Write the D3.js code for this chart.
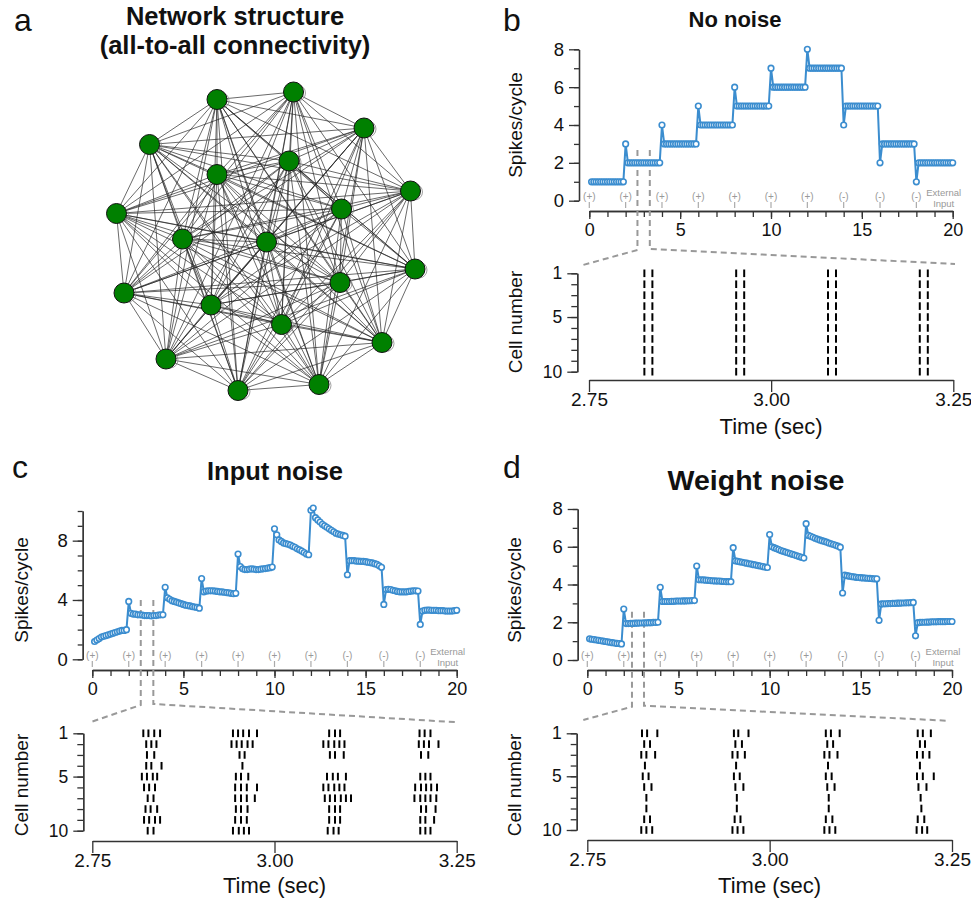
<!DOCTYPE html>
<html>
<head>
<meta charset="utf-8">
<script src="https://cdn.jsdelivr.net/npm/d3@7"></script>
<style>
  body { margin: 0; background: #fff; }
  text { font-family: "Liberation Sans", Arial, Helvetica, sans-serif; }
</style>
</head>
<body>
<div id="fig"></div>
<script>
// ---------- data ----------

// one spikes/cycle value per theta cycle (0.125 s)
var cycleLen = 0.125;

var inputTimes = [0, 2, 4, 6, 8, 10, 12, 14, 16, 18];
var inputSigns = ["(+)", "(+)", "(+)", "(+)", "(+)", "(+)", "(+)", "(-)", "(-)", "(-)"];

var timeTicks = [0, 5, 10, 15, 20];
var zoomTicks = [2.75, 3.00, 3.25];
var cellTicks = [1, 5, 10];

// b: no noise, one row per 2 s input step
var noNoise = [
  [1,1,1,1,1,1,1,1,1,1,1,1,1,1,1],
  [3,2,2,2,2,2,2,2,2,2,2,2,2,2,2,2],
  [4,3,3,3,3,3,3,3,3,3,3,3,3,3,3,3],
  [5,4,4,4,4,4,4,4,4,4,4,4,4,4,4,4],
  [6,5,5,5,5,5,5,5,5,5,5,5,5,5,5,5],
  [7,6,6,6,6,6,6,6,6,6,6,6,6,6,6,6],
  [8,7,7,7,7,7,7,7,7,7,7,7,7,7,7,7],
  [4,5,5,5,5,5,5,5,5,5,5,5,5,5,5,5],
  [2,3,3,3,3,3,3,3,3,3,3,3,3,3,3,3],
  [1,2,2,2,2,2,2,2,2,2,2,2,2,2,2,2,2]
];

// c: input noise
var inputNoise = [
  [1.2,1.3,1.4,1.5,1.55,1.6,1.65,1.7,1.75,1.8,1.85,1.9,1.95,1.95,2.0],
  [3.9,3.1,3.05,3.05,3.0,3.0,2.98,2.95,2.95,2.95,2.92,2.95,2.95,2.98,3.0,3.0],
  [4.85,4.15,4.05,3.95,3.9,3.85,3.8,3.75,3.7,3.65,3.62,3.6,3.55,3.52,3.5,3.45],
  [5.45,4.55,4.6,4.62,4.62,4.62,4.6,4.58,4.55,4.55,4.52,4.5,4.48,4.45,4.42,4.45],
  [7.1,6.25,6.1,6.05,6.05,6.08,6.1,6.08,6.05,6.05,6.08,6.1,6.12,6.15,6.18,6.22],
  [8.8,8.4,8.05,7.95,7.85,7.8,7.75,7.7,7.62,7.55,7.45,7.38,7.3,7.2,7.1,7.05],
  [10.05,10.2,9.55,9.4,9.25,9.1,9.0,8.9,8.8,8.7,8.6,8.5,8.45,8.4,8.35,8.3],
  [5.7,6.65,6.65,6.65,6.62,6.62,6.6,6.6,6.58,6.55,6.52,6.5,6.45,6.4,6.3,6.2],
  [3.7,4.7,4.72,4.7,4.65,4.62,4.58,4.55,4.55,4.55,4.55,4.58,4.6,4.62,4.62,4.6],
  [2.35,3.25,3.3,3.32,3.32,3.3,3.3,3.3,3.28,3.28,3.28,3.25,3.25,3.25,3.25,3.28,3.3]
];

// d: weight noise
var weightNoise = [
  [1.12,1.1,1.08,1.06,1.04,1.02,1.0,0.98,0.96,0.94,0.92,0.9,0.88,0.87,0.85],
  [2.7,1.93,1.93,1.94,1.94,1.95,1.95,1.96,1.96,1.97,1.97,1.98,1.98,1.99,1.99,2.0],
  [3.85,3.1,3.1,3.1,3.1,3.11,3.11,3.12,3.12,3.12,3.13,3.13,3.14,3.14,3.15,3.15],
  [4.98,4.25,4.25,4.24,4.23,4.22,4.21,4.2,4.19,4.18,4.18,4.17,4.16,4.15,4.15,4.15],
  [5.95,5.25,5.23,5.2,5.18,5.15,5.13,5.1,5.08,5.05,5.03,5.0,4.98,4.95,4.92,4.9],
  [6.65,6.0,5.95,5.9,5.85,5.8,5.76,5.72,5.68,5.64,5.6,5.56,5.52,5.48,5.44,5.4],
  [7.22,6.6,6.55,6.5,6.45,6.4,6.36,6.32,6.28,6.24,6.2,6.16,6.12,6.08,6.03,5.98],
  [3.55,4.5,4.47,4.44,4.42,4.4,4.38,4.37,4.36,4.35,4.34,4.33,4.32,4.31,4.3,4.3],
  [2.1,2.97,2.98,2.98,2.99,2.99,3.0,3.0,3.01,3.01,3.02,3.02,3.03,3.03,3.04,3.05],
  [1.28,1.98,1.99,2.0,2.0,2.01,2.01,2.02,2.02,2.02,2.03,2.03,2.03,2.03,2.04,2.04,2.04]
];

// zoomed window marks on the time axis (sec)
var windowB = [2.65, 3.33];
var windowC = [2.66, 3.35];
var windowD = [2.45, 3.11];

// spike times (sec), one list per cell 1..10
var noNoiseSpikes = [
  [2.826,2.837,2.952,2.963,3.078,3.089,3.204,3.215],
  [2.826,2.837,2.952,2.963,3.078,3.089,3.204,3.215],
  [2.826,2.837,2.952,2.963,3.078,3.089,3.204,3.215],
  [2.826,2.837,2.952,2.963,3.078,3.089,3.204,3.215],
  [2.826,2.837,2.952,2.963,3.078,3.089,3.204,3.215],
  [2.826,2.837,2.952,2.963,3.078,3.089,3.204,3.215],
  [2.826,2.837,2.952,2.963,3.078,3.089,3.204,3.215],
  [2.826,2.837,2.952,2.963,3.078,3.089,3.204,3.215],
  [2.826,2.837,2.952,2.963,3.078,3.089,3.204,3.215],
  [2.826,2.837,2.952,2.963,3.078,3.089,3.204,3.215]
];

var inputNoiseSpikes = [
  [2.820,2.827,2.835,2.843, 2.943,2.950,2.957,2.965,2.976, 3.075,3.083,3.090, 3.199,3.206,3.214],
  [2.824,2.831,2.838, 2.941,2.948,2.955,2.963,2.970, 3.067,3.074,3.082,3.089,3.096, 3.198,3.205,3.212,3.225],
  [2.825,2.835, 2.952,2.959, 3.076,3.083,3.095, 3.201,3.211],
  [2.824,2.831,2.845, 2.956],
  [2.818,2.825,2.833,2.839, 2.947,2.954,2.964, 3.072,3.080,3.087,3.098, 3.200,3.207,3.214],
  [2.821,2.828,2.836, 2.946,2.954,2.962,2.976, 3.067,3.074,3.082,3.089,3.096, 3.193,3.201,3.208,3.215,3.223],
  [2.826,2.834, 2.946,2.954,2.962,2.973, 3.069,3.076,3.083,3.091,3.098,3.105, 3.192,3.200,3.207,3.214,3.222],
  [2.823,2.830,2.839, 2.947,2.954,2.963, 3.075,3.083,3.090, 3.201,3.208,3.221],
  [2.821,2.828,2.836,2.843, 2.946,2.954,2.962, 3.075,3.083,3.090, 3.200,3.207,3.219],
  [2.826,2.834, 2.943,2.951,2.958,2.965, 3.073,3.081,3.088, 3.200,3.207,3.214]
];

var weightNoiseSpikes = [
  [2.825,2.832,2.846, 2.951,2.957,2.971, 3.077,3.084,3.096, 3.203,3.210,3.221],
  [2.828,2.836, 2.953,2.962, 3.079,3.087, 3.206,3.213],
  [2.824,2.831,2.843, 2.949,2.956,2.966, 3.075,3.082,3.093, 3.202,3.210,3.219],
  [2.829, 2.954, 3.080, 3.206],
  [2.826,2.834, 2.951,2.959, 3.077,3.085, 3.202,3.210,3.225],
  [2.828,2.838, 2.953,2.964, 3.079,3.089, 3.204,3.215],
  [2.831, 2.955, 3.081, 3.207],
  [2.831, 2.955, 3.081, 3.208],
  [2.828,2.836, 2.952,2.960, 3.077,3.086, 3.203,3.212],
  [2.824,2.831,2.839, 2.949,2.956,2.964, 3.075,3.082,3.090, 3.2015,3.209,3.216]
];

// network layout (a), 20 cells in layout units
var nodeX = [-0.32,0.19,0.66,-0.77,0.16,-0.32,0.97,-0.99,0.51,-0.55,0.01,1.0,-0.94,0.50,-0.36,0.11,0.78,-0.66,-0.18,0.36];
var nodeY = [-0.97,-1.02,-0.78,-0.67,-0.56,-0.47,-0.36,-0.21,-0.24,-0.04,-0.02,0.16,0.32,0.25,0.40,0.53,0.65,0.76,0.97,0.93];

// ---------- drawing ----------

var blue = "#3b8dcf";
var grey = "#999";
var ink = "#333";

var svg = d3.select("#fig").append("svg")
    .attr("width", 971)
    .attr("height", 898);

function styleAxis(g, size) {
  g.select(".domain").attr("stroke", ink).attr("stroke-width", 1.3);
  g.selectAll(".tick line").attr("stroke", ink).attr("stroke-width", 1.3);
  g.selectAll(".tick text").attr("font-size", size).attr("fill", "#111")
    .attr("font-family", "Liberation Sans, Arial, sans-serif");
}

function label(x, y, txt, size, opts) {
  opts = opts || {};
  var t = svg.append("text")
    .attr("x", x).attr("y", y)
    .attr("font-size", size)
    .attr("text-anchor", opts.anchor || "middle")
    .attr("font-weight", opts.bold ? "bold" : "normal")
    .attr("fill", opts.fill || "#111")
    .text(txt);
  if (opts.rotate) t.attr("transform", "rotate(-90," + x + "," + y + ")");
  return t;
}

// ---- a: network ----
label(14, 31, "a", 32, {anchor: "start"});
label(235, 25, "Network structure", 25.5, {bold: true});
label(235, 54, "(all-to-all connectivity)", 25.5, {bold: true});

var nx = d3.scaleLinear().domain([-1, 1]).range([115, 415]);
var ny = d3.scaleLinear().domain([-1, 1]).range([95, 395]);
var nodes = nodeX.map(function(d, i) { return {x: d, y: nodeY[i]}; });
var edges = [];
nodes.forEach(function(a, i) {
  nodes.forEach(function(b, j) { if (j > i) edges.push([a, b]); });
});

var net = svg.append("g");
net.selectAll("line.edge")
  .data(edges)
  .enter().append("line")
    .attr("x1", function(d) { return nx(d[0].x); })
    .attr("y1", function(d) { return ny(d[0].y); })
    .attr("x2", function(d) { return nx(d[1].x); })
    .attr("y2", function(d) { return ny(d[1].y); })
    .attr("stroke", "#222")
    .attr("stroke-opacity", 0.8)
    .attr("stroke-width", 0.85);
// self connections
net.selectAll("circle.loop")
  .data(nodes)
  .enter().append("circle")
    .attr("cx", function(d) { return nx(d.x) + 4; })
    .attr("cy", function(d) { return ny(d.y) + 1; })
    .attr("r", 8)
    .attr("fill", "none")
    .attr("stroke", "#888")
    .attr("stroke-width", 0.8);
net.selectAll("circle.node")
  .data(nodes)
  .enter().append("circle")
    .attr("cx", function(d) { return nx(d.x); })
    .attr("cy", function(d) { return ny(d.y); })
    .attr("r", 10)
    .attr("fill", "#008000")
    .attr("stroke", "#111")
    .attr("stroke-width", 1);

// ---- rate panels + rasters ----
var panels = [
  {letter: "b", lx: 503, ly: 31, title: "No noise", tx: 735, ty: 27, tsize: 22,
   rates: noNoise, spikes: noNoiseSpikes, win: windowB,
   ymax: 8, yMajor: [0, 2, 4, 6, 8],
   x0: 589.3, x1: 952.7, xAxisY: 211, yAxisX: 579, y0: 200.7, yTop: 49.3,
   rx0: 589, rx1: 953.3, rAxisY: 380, rAxisX: 577.3, row1: 273.3, row10: 371.7,
   dashTop: 150, dashBot: 250, dl: [583, 265], dr: [955, 264],
   ylabY: 125, cellY: 322, labX: 522, timeY: 434},
  {letter: "c", lx: 12, ly: 478, title: "Input noise", tx: 275, ty: 480, tsize: 25.5,
   rates: inputNoise, spikes: inputNoiseSpikes, win: windowC,
   ymax: 10, yMajor: [0, 4, 8],
   x0: 92.3, x1: 456.7, xAxisY: 670, yAxisX: 82.7, y0: 659.3, yTop: 511,
   rx0: 92.3, rx1: 456.7, rAxisY: 841, rAxisX: 83.3, row1: 733.3, row10: 830.7,
   dashTop: 600, dashBot: 705, dl: [91.7, 721.7], dr: [458.3, 722.3],
   ylabY: 590, cellY: 785, labX: 28, timeY: 893},
  {letter: "d", lx: 503, ly: 478, title: "Weight noise", tx: 756, ty: 490, tsize: 28.5,
   rates: weightNoise, spikes: weightNoiseSpikes, win: windowD,
   ymax: 8, yMajor: [0, 2, 4, 6, 8],
   x0: 587.3, x1: 952, xAxisY: 670, yAxisX: 577.7, y0: 660, yTop: 509,
   rx0: 587.3, rx1: 952, rAxisY: 840, rAxisX: 576.7, row1: 733.3, row10: 830,
   dashTop: 611.7, dashBot: 706.7, dl: [583.3, 720], dr: [946.7, 720.7],
   ylabY: 590, cellY: 785, labX: 521, timeY: 893}
];

panels.forEach(function(p) {
  label(p.lx, p.ly, p.letter, 32, {anchor: "start"});
  label(p.tx, p.ty, p.title, p.tsize, {bold: true});

  // top: spikes per cycle over 20 s
  var x = d3.scaleLinear().domain([0, 20]).range([p.x0, p.x1]);
  var y = d3.scaleLinear().domain([0, p.ymax]).range([p.y0, p.yTop]);

  var gx = svg.append("g").attr("transform", "translate(0," + p.xAxisY + ")");
  gx.append("g").call(d3.axisBottom(x).tickValues(d3.range(0, 21)).tickSize(6).tickSizeOuter(0).tickFormat(""))
    .call(styleAxis, 18);
  gx.append("g").call(d3.axisBottom(x).tickValues(timeTicks).tickSize(8).tickSizeOuter(0).tickPadding(4))
    .call(styleAxis, 18);

  var gy = svg.append("g").attr("transform", "translate(" + p.yAxisX + ",0)");
  gy.append("g").call(d3.axisLeft(y).tickValues(d3.range(0, p.ymax + 1)).tickSize(5).tickSizeOuter(0).tickFormat(""))
    .call(styleAxis, 18);
  gy.append("g").call(d3.axisLeft(y).tickValues(p.yMajor).tickSize(10).tickSizeOuter(0).tickPadding(5))
    .call(styleAxis, 18.5);

  label(p.labX, p.ylabY, "Spikes/cycle", 19, {rotate: true});

  // external input marks
  var inp = svg.append("g");
  inp.selectAll("text")
    .data(inputTimes)
    .enter().append("text")
      .attr("x", function(d) { return x(d); })
      .attr("y", p.xAxisY - 11)
      .attr("text-anchor", "middle")
      .attr("font-size", 10)
      .attr("fill", grey)
      .text(function(d, i) { return inputSigns[i]; });
  inp.selectAll("line")
    .data(inputTimes)
    .enter().append("line")
      .attr("x1", function(d) { return x(d); })
      .attr("x2", function(d) { return x(d); })
      .attr("y1", p.xAxisY - 9)
      .attr("y2", p.xAxisY - 3)
      .attr("stroke", "#aaa")
      .attr("stroke-width", 1.2);
  label(p.x1 - 9, p.xAxisY - 15.5, "External", 9.5, {fill: grey});
  label(p.x1 - 9, p.xAxisY - 4, "Input", 9.5, {fill: grey});

  // zoom window dashes
  var dash = svg.append("g")
    .attr("stroke", grey).attr("stroke-width", 2)
    .attr("stroke-dasharray", "6,4").attr("fill", "none");
  dash.append("path")
    .attr("d", "M" + x(p.win[0]) + "," + p.dashTop + "V" + p.dashBot + "L" + p.dl[0] + "," + p.dl[1]);
  dash.append("path")
    .attr("d", "M" + x(p.win[1]) + "," + p.dashTop + "V" + (p.dashBot - 1) + "L" + p.dr[0] + "," + p.dr[1]);

  // rate trace
  var pts = d3.merge(p.rates).map(function(v, i) { return {t: (i + 1) * cycleLen, v: v}; });
  svg.append("path")
    .datum(pts)
    .attr("fill", "none")
    .attr("stroke", blue)
    .attr("stroke-width", 2)
    .attr("d", d3.line().x(function(d) { return x(d.t); }).y(function(d) { return y(d.v); }));
  svg.append("g").selectAll("circle")
    .data(pts)
    .enter().append("circle")
      .attr("cx", function(d) { return x(d.t); })
      .attr("cy", function(d) { return y(d.v); })
      .attr("r", 2.8)
      .attr("fill", "#fff")
      .attr("stroke", blue)
      .attr("stroke-width", 1.6);

  // raster of the zoomed window
  var rx = d3.scaleLinear().domain([2.75, 3.25]).range([p.rx0, p.rx1]);
  var ry = d3.scaleLinear().domain([1, 10]).range([p.row1, p.row10]);

  svg.append("g").attr("transform", "translate(0," + p.rAxisY + ")")
    .call(d3.axisBottom(rx).tickValues(zoomTicks).tickSize(12).tickSizeOuter(0).tickPadding(1).tickFormat(d3.format(".2f")))
    .call(styleAxis, 19);
  var ga = svg.append("g").attr("transform", "translate(" + p.rAxisX + ",0)");
  ga.append("g").call(d3.axisLeft(ry).tickValues(d3.range(1, 11)).tickSize(6).tickSizeOuter(0).tickFormat(""))
    .call(styleAxis, 17);
  ga.append("g").call(d3.axisLeft(ry).tickValues(cellTicks).tickSize(10).tickSizeOuter(0).tickPadding(5))
    .call(styleAxis, 17.5);

  label(p.labX, p.cellY, "Cell number", 19, {rotate: true});
  label((p.rx0 + p.rx1) / 2, p.timeY, "Time (sec)", 22);

  var spikes = [];
  p.spikes.forEach(function(row, i) {
    row.forEach(function(t) { spikes.push({cell: i + 1, t: t}); });
  });
  svg.append("g").selectAll("line")
    .data(spikes)
    .enter().append("line")
      .attr("x1", function(d) { return rx(d.t); })
      .attr("x2", function(d) { return rx(d.t); })
      .attr("y1", function(d) { return ry(d.cell) - 3.8; })
      .attr("y2", function(d) { return ry(d.cell) + 3.8; })
      .attr("stroke", "#000")
      .attr("stroke-width", 2);
});
</script>
</body>
</html>
